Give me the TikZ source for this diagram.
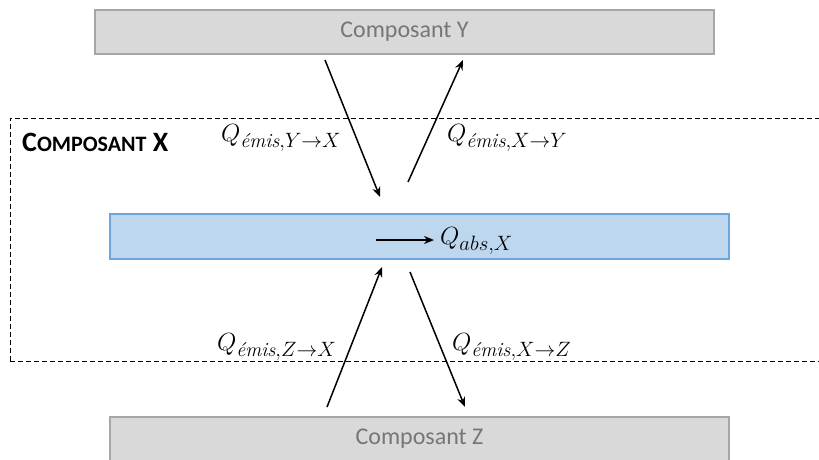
\documentclass[tikz,border=0pt]{standalone}
\usepackage{amsmath}
\usepackage{fontspec}
\usetikzlibrary{arrows.meta,positioning}
\newfontfamily\calfont{Carlito}
\definecolor{boxgray}{RGB}{217,217,217}
\definecolor{edgegray}{RGB}{166,166,166}
\definecolor{textgray}{RGB}{118,118,118}
\definecolor{xblue}{RGB}{189,215,238}
\definecolor{xedge}{RGB}{112,164,220}
\DeclareMathSizes{25}{25}{20}{15}
\newcommand{\emis}{\text{\itshape\'emis}}

\begin{document}
\begin{tikzpicture}[
      x=1pt, y=-1pt,
      compbox/.style={draw=edgegray, fill=boxgray, line width=1.2pt, minimum width=619pt, minimum height=44pt, inner sep=0pt, font=\calfont\fontsize{24}{28}\selectfont, text=textgray},
      absbox/.style={draw=xedge, fill=xblue, line width=1.5pt, minimum width=619pt, minimum height=45pt, inner sep=0pt},
      flux/.style={-{Stealth[length=10pt,width=8pt]}, line width=1.5pt},
      qlabel/.style={font=\fontsize{25}{29}\selectfont, inner sep=0pt}
    ]
      \useasboundingbox (0,0) rectangle (819,459);
      \begin{scope}
      \clip (0,0) rectangle (819,459);

      % Component X frame
      \draw[line width=1pt, dash pattern=on 5pt off 3pt] (10,361) -- (10,118) -- (830,118);
      \draw[line width=1pt, dash pattern=on 5pt off 3pt] (10,361) -- (830,361);
      \node[anchor=west, font=\calfont\bfseries\fontsize{28}{32}\selectfont, inner sep=0pt] (titleX) at (22,142) {C{\fontsize{22}{26}\selectfont OMPOSANT} X};

      % Components
      \node[compbox] (compY) at (404.5,32) {Composant Y};
      \node[compbox] (compZ) at (419.5,439) {Composant Z};
      \node[absbox] (absX) at (419.5,236.5) {};

      % Flux end points
      \coordinate (yx0) at (325,60);
      \coordinate (yx1) at (380,197);
      \coordinate (xy0) at (408,182);
      \coordinate (xy1) at (463,60);
      \coordinate (zx0) at (327,407);
      \coordinate (zx1) at (382,267);
      \coordinate (xz0) at (410,272);
      \coordinate (xz1) at (465,407);
      \coordinate (ab0) at (376,240);
      \coordinate (ab1) at (434,240);

      \draw[flux] (yx0) -- (yx1);
      \draw[flux] (xy0) -- (xy1);
      \draw[flux] (zx0) -- (zx1);
      \draw[flux] (xz0) -- (xz1);
      \draw[flux] (ab0) -- (ab1);

      % Labels
      \node[qlabel, anchor=west] (qyx) at (221,138) {$Q_{\emis,Y\rightarrow X}$};
      \node[qlabel, anchor=west] (qxy) at (447,138) {$Q_{\emis,X\rightarrow Y}$};
      \node[qlabel, anchor=west] (qzx) at (217,347) {$Q_{\emis,Z\rightarrow X}$};
      \node[qlabel, anchor=west] (qxz) at (452,347) {$Q_{\emis,X\rightarrow Z}$};
      \node[qlabel, anchor=west] (qabs) at (440,241) {$Q_{abs,X}$};
      \end{scope}
    \end{tikzpicture}
\end{document}
